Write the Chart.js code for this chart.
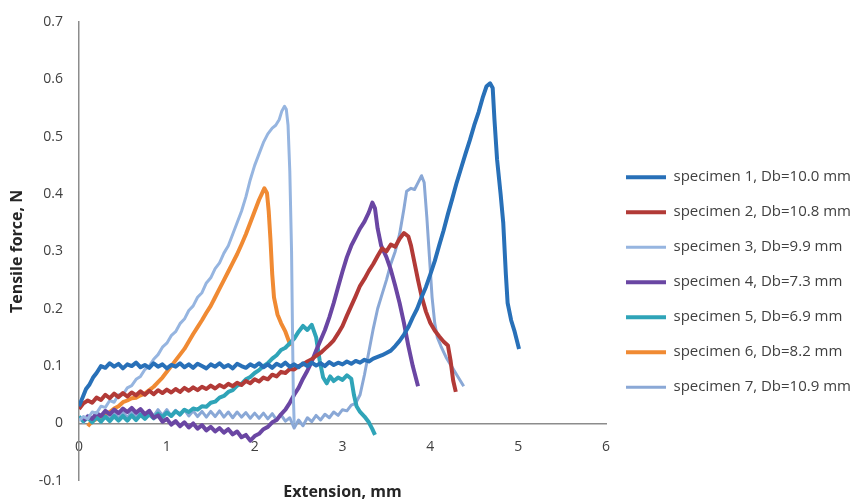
<!DOCTYPE html>
<html>
<head>
<meta charset="utf-8">
<style>
  body { margin: 0; background: #fff; }
  .chart-box { width: 855px; height: 504px; }
</style>
</head>
<body>
<div class="chart-box"><canvas id="forceChart"></canvas></div>

<script src="https://cdn.jsdelivr.net/npm/chart.js"></script>
<script>
  // legend names
  const seriesNames = [
    'specimen 1, Db=10.0 mm',
    'specimen 2, Db=10.8 mm',
    'specimen 3, Db=9.9 mm',
    'specimen 4, Db=7.3 mm',
    'specimen 5, Db=6.9 mm',
    'specimen 6, Db=8.2 mm',
    'specimen 7, Db=10.9 mm'
  ];

  // axis ticks
  const xTickValues = [0, 1, 2, 3, 4, 5, 6];
  const xTickLabels = ['0', '1', '2', '3', '4', '5', '6'];
  const yTickValues = [-0.1, 0, 0.1, 0.2, 0.3, 0.4, 0.5, 0.6, 0.7];
  const yTickLabels = ['-0.1', '0', '0.1', '0.2', '0.3', '0.4', '0.5', '0.6', '0.7'];

  // [extension mm, force N]
  const spec1 = [
    [0,0.03],[0.04,0.045],[0.08,0.06],[0.12,0.068],[0.16,0.08],[0.2,0.088],[0.25,0.1],
    [0.3,0.097],[0.35,0.105],[0.4,0.099],[0.45,0.104],[0.5,0.096],[0.55,0.103],[0.6,0.1],[0.65,0.106],
    [0.7,0.098],[0.75,0.102],[0.8,0.097],[0.85,0.105],[0.9,0.099],[0.95,0.103],[1.0,0.096],[1.05,0.102],
    [1.1,0.099],[1.15,0.105],[1.2,0.098],[1.25,0.103],[1.3,0.097],[1.35,0.104],[1.4,0.1],[1.45,0.096],
    [1.5,0.103],[1.55,0.099],[1.6,0.105],[1.65,0.098],[1.7,0.102],[1.75,0.096],[1.8,0.104],[1.85,0.1],
    [1.9,0.097],[1.95,0.103],[2.0,0.099],[2.05,0.105],[2.1,0.098],[2.15,0.103],[2.2,0.097],[2.25,0.104],
    [2.3,0.1],[2.35,0.106],[2.4,0.099],[2.45,0.103],[2.5,0.098],[2.55,0.105],[2.6,0.1],[2.65,0.106],
    [2.7,0.101],[2.75,0.105],[2.8,0.1],[2.85,0.107],[2.9,0.102],[2.95,0.106],[3.0,0.103],[3.05,0.108],
    [3.1,0.104],[3.15,0.109],[3.2,0.106],[3.25,0.111],[3.3,0.108],[3.35,0.113],[3.4,0.116],[3.45,0.119],
    [3.5,0.123],[3.55,0.127],[3.6,0.135],[3.65,0.144],[3.7,0.155],[3.75,0.168],[3.8,0.185],[3.85,0.2],
    [3.9,0.22],[3.95,0.238],[4.0,0.26],[4.05,0.283],[4.1,0.31],[4.15,0.336],[4.2,0.365],[4.25,0.392],
    [4.3,0.42],[4.35,0.445],[4.4,0.47],[4.45,0.494],[4.5,0.52],[4.55,0.543],[4.6,0.57],[4.64,0.588],
    [4.68,0.593],[4.71,0.585],[4.73,0.53],[4.76,0.46],[4.8,0.4],[4.83,0.35],[4.86,0.26],[4.88,0.21],
    [4.92,0.18],[4.96,0.16],[5.01,0.13]
  ];

  const spec2 = [
    [0,0.025],[0.05,0.035],[0.1,0.04],[0.15,0.036],[0.2,0.045],[0.25,0.041],[0.3,0.05],[0.35,0.044],
    [0.4,0.052],[0.45,0.046],[0.5,0.053],[0.55,0.047],[0.6,0.054],[0.65,0.049],[0.7,0.056],[0.75,0.05],
    [0.8,0.057],[0.85,0.051],[0.9,0.058],[0.95,0.053],[1.0,0.059],[1.05,0.054],[1.1,0.06],[1.15,0.055],
    [1.2,0.062],[1.25,0.057],[1.3,0.063],[1.35,0.058],[1.4,0.064],[1.45,0.06],[1.5,0.066],[1.55,0.061],
    [1.6,0.067],[1.65,0.063],[1.7,0.069],[1.75,0.065],[1.8,0.071],[1.85,0.067],[1.9,0.074],[1.95,0.07],
    [2.0,0.077],[2.05,0.073],[2.1,0.08],[2.15,0.077],[2.2,0.085],[2.25,0.082],[2.3,0.09],[2.35,0.088],
    [2.4,0.095],[2.45,0.094],[2.5,0.1],[2.55,0.103],[2.6,0.108],[2.65,0.112],[2.7,0.118],[2.75,0.123],
    [2.8,0.13],[2.85,0.137],[2.9,0.145],[2.95,0.157],[3.0,0.17],[3.05,0.188],[3.1,0.205],[3.15,0.222],
    [3.2,0.24],[3.25,0.252],[3.3,0.266],[3.35,0.278],[3.4,0.292],[3.45,0.305],[3.5,0.3],[3.55,0.312],
    [3.6,0.308],[3.65,0.322],[3.7,0.332],[3.75,0.326],[3.78,0.31],[3.82,0.28],[3.86,0.25],[3.9,0.222],
    [3.95,0.195],[4.0,0.175],[4.05,0.162],[4.1,0.152],[4.15,0.143],[4.2,0.136],[4.23,0.11],[4.26,0.075],
    [4.29,0.055]
  ];

  const spec3 = [
    [0,0.005],[0.05,0.012],[0.1,0.008],[0.15,0.02],[0.2,0.018],[0.25,0.03],[0.3,0.028],[0.35,0.04],
    [0.4,0.037],[0.45,0.05],[0.5,0.05],[0.55,0.062],[0.6,0.066],[0.65,0.077],[0.7,0.082],[0.75,0.094],
    [0.8,0.1],[0.85,0.112],[0.9,0.12],[0.95,0.133],[1.0,0.14],[1.05,0.153],[1.1,0.16],[1.15,0.174],
    [1.2,0.182],[1.25,0.197],[1.3,0.205],[1.35,0.22],[1.4,0.228],[1.45,0.245],[1.5,0.254],[1.55,0.27],
    [1.6,0.28],[1.65,0.297],[1.7,0.31],[1.75,0.33],[1.8,0.35],[1.85,0.37],[1.9,0.395],[1.95,0.425],
    [2.0,0.45],[2.05,0.47],[2.1,0.49],[2.15,0.505],[2.2,0.515],[2.24,0.52],[2.28,0.53],[2.31,0.545],
    [2.34,0.553],[2.36,0.548],[2.38,0.52],[2.4,0.44],[2.42,0.3],[2.43,0.17],[2.44,0.05],[2.45,0.0]
  ];

  const spec4 = [
    [0.05,0.005],[0.1,0.012],[0.15,0.008],[0.2,0.018],[0.25,0.013],[0.3,0.022],[0.35,0.016],[0.4,0.024],
    [0.45,0.018],[0.5,0.026],[0.55,0.02],[0.6,0.027],[0.65,0.019],[0.7,0.025],[0.75,0.016],[0.8,0.022],
    [0.85,0.01],[0.9,0.014],[0.95,0.003],[1.0,0.008],[1.05,-0.002],[1.1,0.004],[1.15,-0.005],[1.2,0.002],
    [1.25,-0.007],[1.3,0.0],[1.35,-0.009],[1.4,-0.003],[1.45,-0.012],[1.5,-0.006],[1.55,-0.014],[1.6,-0.008],
    [1.65,-0.016],[1.7,-0.01],[1.75,-0.019],[1.8,-0.014],[1.85,-0.024],[1.9,-0.02],[1.95,-0.03],[2.0,-0.022],
    [2.05,-0.018],[2.1,-0.01],[2.15,-0.006],[2.2,0.002],[2.25,0.006],[2.3,0.016],[2.35,0.024],[2.4,0.036],
    [2.45,0.05],[2.5,0.062],[2.55,0.078],[2.6,0.092],[2.65,0.108],[2.7,0.127],[2.75,0.145],[2.8,0.163],
    [2.85,0.185],[2.9,0.21],[2.95,0.238],[3.0,0.265],[3.05,0.29],[3.1,0.31],[3.15,0.325],[3.2,0.34],
    [3.25,0.352],[3.3,0.368],[3.34,0.385],[3.37,0.375],[3.4,0.34],[3.44,0.31],[3.5,0.29],[3.55,0.268],
    [3.6,0.24],[3.65,0.21],[3.7,0.175],[3.75,0.135],[3.8,0.1],[3.86,0.065]
  ];

  const spec5 = [
    [0,0.012],[0.05,0.004],[0.1,0.01],[0.15,0.002],[0.2,0.011],[0.25,0.003],[0.3,0.012],[0.35,0.004],
    [0.4,0.013],[0.45,0.005],[0.5,0.013],[0.55,0.005],[0.6,0.014],[0.65,0.006],[0.7,0.015],[0.75,0.008],
    [0.8,0.016],[0.85,0.009],[0.9,0.017],[0.95,0.011],[1.0,0.019],[1.05,0.013],[1.1,0.021],[1.15,0.016],
    [1.2,0.024],[1.25,0.02],[1.3,0.026],[1.35,0.024],[1.4,0.03],[1.45,0.029],[1.5,0.036],[1.55,0.038],
    [1.6,0.045],[1.65,0.048],[1.7,0.055],[1.75,0.058],[1.8,0.066],[1.85,0.069],[1.9,0.077],[1.95,0.081],
    [2.0,0.088],[2.05,0.093],[2.1,0.1],[2.15,0.105],[2.2,0.113],[2.25,0.119],[2.3,0.128],[2.35,0.132],
    [2.4,0.14],[2.45,0.148],[2.5,0.16],[2.55,0.17],[2.6,0.163],[2.65,0.172],[2.7,0.15],[2.74,0.11],
    [2.78,0.08],[2.82,0.07],[2.86,0.082],[2.9,0.074],[2.95,0.08],[3.0,0.076],[3.05,0.084],[3.1,0.078],
    [3.13,0.05],[3.16,0.03],[3.2,0.02],[3.25,0.012],[3.3,0.002],[3.34,-0.01],[3.37,-0.02]
  ];

  const spec6 = [
    [0.1,-0.005],[0.15,0.004],[0.2,0.008],[0.25,0.012],[0.3,0.016],[0.35,0.02],[0.4,0.026],[0.45,0.03],
    [0.5,0.037],[0.55,0.04],[0.6,0.044],[0.65,0.045],[0.7,0.049],[0.75,0.052],[0.8,0.058],[0.85,0.064],
    [0.9,0.072],[0.95,0.08],[1.0,0.09],[1.05,0.1],[1.1,0.11],[1.15,0.12],[1.2,0.13],[1.25,0.143],
    [1.3,0.156],[1.35,0.168],[1.4,0.18],[1.45,0.193],[1.5,0.205],[1.55,0.22],[1.6,0.235],[1.65,0.25],
    [1.7,0.265],[1.75,0.28],[1.8,0.295],[1.85,0.312],[1.9,0.33],[1.95,0.35],[2.0,0.37],[2.05,0.39],
    [2.08,0.4],[2.11,0.41],[2.14,0.402],[2.16,0.37],[2.18,0.32],[2.2,0.26],[2.22,0.22],[2.26,0.19],
    [2.3,0.175],[2.35,0.16],[2.41,0.135]
  ];

  const spec7 = [
    [0,0.012],[0.05,0.002],[0.1,0.014],[0.15,0.004],[0.2,0.016],[0.25,0.006],[0.3,0.017],[0.35,0.008],
    [0.4,0.019],[0.45,0.009],[0.5,0.02],[0.55,0.01],[0.6,0.021],[0.65,0.011],[0.7,0.022],[0.75,0.012],
    [0.8,0.023],[0.85,0.013],[0.9,0.024],[0.95,0.014],[1.0,0.024],[1.05,0.013],[1.1,0.023],[1.15,0.014],
    [1.2,0.024],[1.25,0.013],[1.3,0.022],[1.35,0.012],[1.4,0.021],[1.45,0.011],[1.5,0.021],[1.55,0.012],
    [1.6,0.022],[1.65,0.011],[1.7,0.02],[1.75,0.01],[1.8,0.02],[1.85,0.011],[1.9,0.019],[1.95,0.009],
    [2.0,0.018],[2.05,0.009],[2.1,0.018],[2.15,0.008],[2.2,0.017],[2.25,0.006],[2.3,0.015],[2.35,0.004],
    [2.4,0.01],[2.45,-0.008],[2.5,0.006],[2.55,-0.004],[2.6,0.01],[2.65,0.003],[2.7,0.014],[2.75,0.006],
    [2.8,0.016],[2.85,0.01],[2.9,0.02],[2.95,0.014],[3.0,0.024],[3.05,0.022],[3.1,0.032],[3.15,0.035],
    [3.2,0.05],[3.25,0.085],[3.3,0.125],[3.35,0.165],[3.4,0.2],[3.45,0.225],[3.5,0.25],[3.55,0.278],
    [3.6,0.3],[3.65,0.33],[3.7,0.375],[3.73,0.405],[3.78,0.41],[3.82,0.408],[3.86,0.42],[3.9,0.432],
    [3.93,0.42],[3.96,0.36],[3.99,0.29],[4.02,0.22],[4.05,0.175],[4.08,0.15],[4.12,0.135],[4.18,0.115],
    [4.24,0.1],[4.3,0.085],[4.38,0.065]
  ];

  const allSeries = [spec1, spec2, spec3, spec4, spec5, spec6, spec7];
  const colors = ['#2870B8', '#B23A37', '#96B5E0', '#6A46A3', '#2FA4B8', '#F08A33', '#8AA8D6'];
  const widths = [4, 4, 3, 4, 4, 4, 3];

  const fontFamily = "'Open Sans', sans-serif";
  const textColor = '#404040';
  const axisColor = '#8c8c8c';

  const datasets = allSeries.map((pts, i) => ({
    label: seriesNames[i],
    data: pts.map(p => ({ x: p[0], y: p[1] })),
    borderColor: colors[i],
    backgroundColor: colors[i],
    borderWidth: widths[i],
    borderJoinStyle: 'round',
    pointRadius: 0,
    tension: 0,
    fill: false
  }));

  const config = {
    type: 'line',
    data: { datasets: datasets },
    options: {
      responsive: true,
      maintainAspectRatio: false,
      animation: false,
      layout: { padding: { top: 22, right: 0, bottom: 0, left: 0 } },
      scales: {
        x: {
          type: 'linear',
          position: { y: 0 },   // axis crosses at zero force
          min: 0,
          max: 6,
          afterBuildTicks: axis => { axis.ticks = xTickValues.map(v => ({ value: v })); },
          grid: { display: false, drawTicks: false },
          border: { display: true, color: axisColor, width: 1.5 },
          ticks: {
            padding: 15,
            color: textColor,
            font: { family: fontFamily, size: 14 },
            callback: (v, i) => xTickLabels[i]
          }
        },
        y: {
          type: 'linear',
          min: -0.1,
          max: 0.7,
          afterBuildTicks: axis => { axis.ticks = yTickValues.map(v => ({ value: v })); },
          afterFit: axis => {
            axis.width = 79;
            // let the bottom title decide where the plot ends
            axis.paddingTop = 0;
            axis.paddingBottom = 0;
          },
          grid: { display: false, drawTicks: false },
          border: { display: true, color: axisColor, width: 1.5 },
          ticks: {
            padding: 16,
            color: textColor,
            font: { family: fontFamily, size: 14 },
            callback: (v, i) => yTickLabels[i]
          },
          title: {
            display: true,
            text: 'Tensile force, N',
            color: '#262626',
            font: { family: fontFamily, size: 16, weight: 'bold' },
            padding: { top: 8, bottom: 0 }
          }
        }
      },
      plugins: {
        legend: {
          position: 'right',
          maxWidth: 249,
          labels: {
            usePointStyle: true,
            pointStyle: 'line',
            pointStyleWidth: 40,
            padding: 20,
            color: textColor,
            font: { family: fontFamily, size: 15 }
          },
          // empty title only pushes the entries down a little
          title: { display: true, text: ' ', font: { size: 12 }, padding: { top: 0, bottom: 24 } }
        },
        title: {
          display: true,
          text: 'Extension, mm',
          position: 'bottom',
          fullSize: false,
          color: '#262626',
          font: { family: fontFamily, size: 16, weight: 'bold' },
          padding: { top: 2, bottom: 2 }
        },
        tooltip: { enabled: false }
      }
    }
  };

  const ctx = document.getElementById('forceChart').getContext('2d');
  const forceChart = new Chart(ctx, config);
</script>
</body>
</html>
